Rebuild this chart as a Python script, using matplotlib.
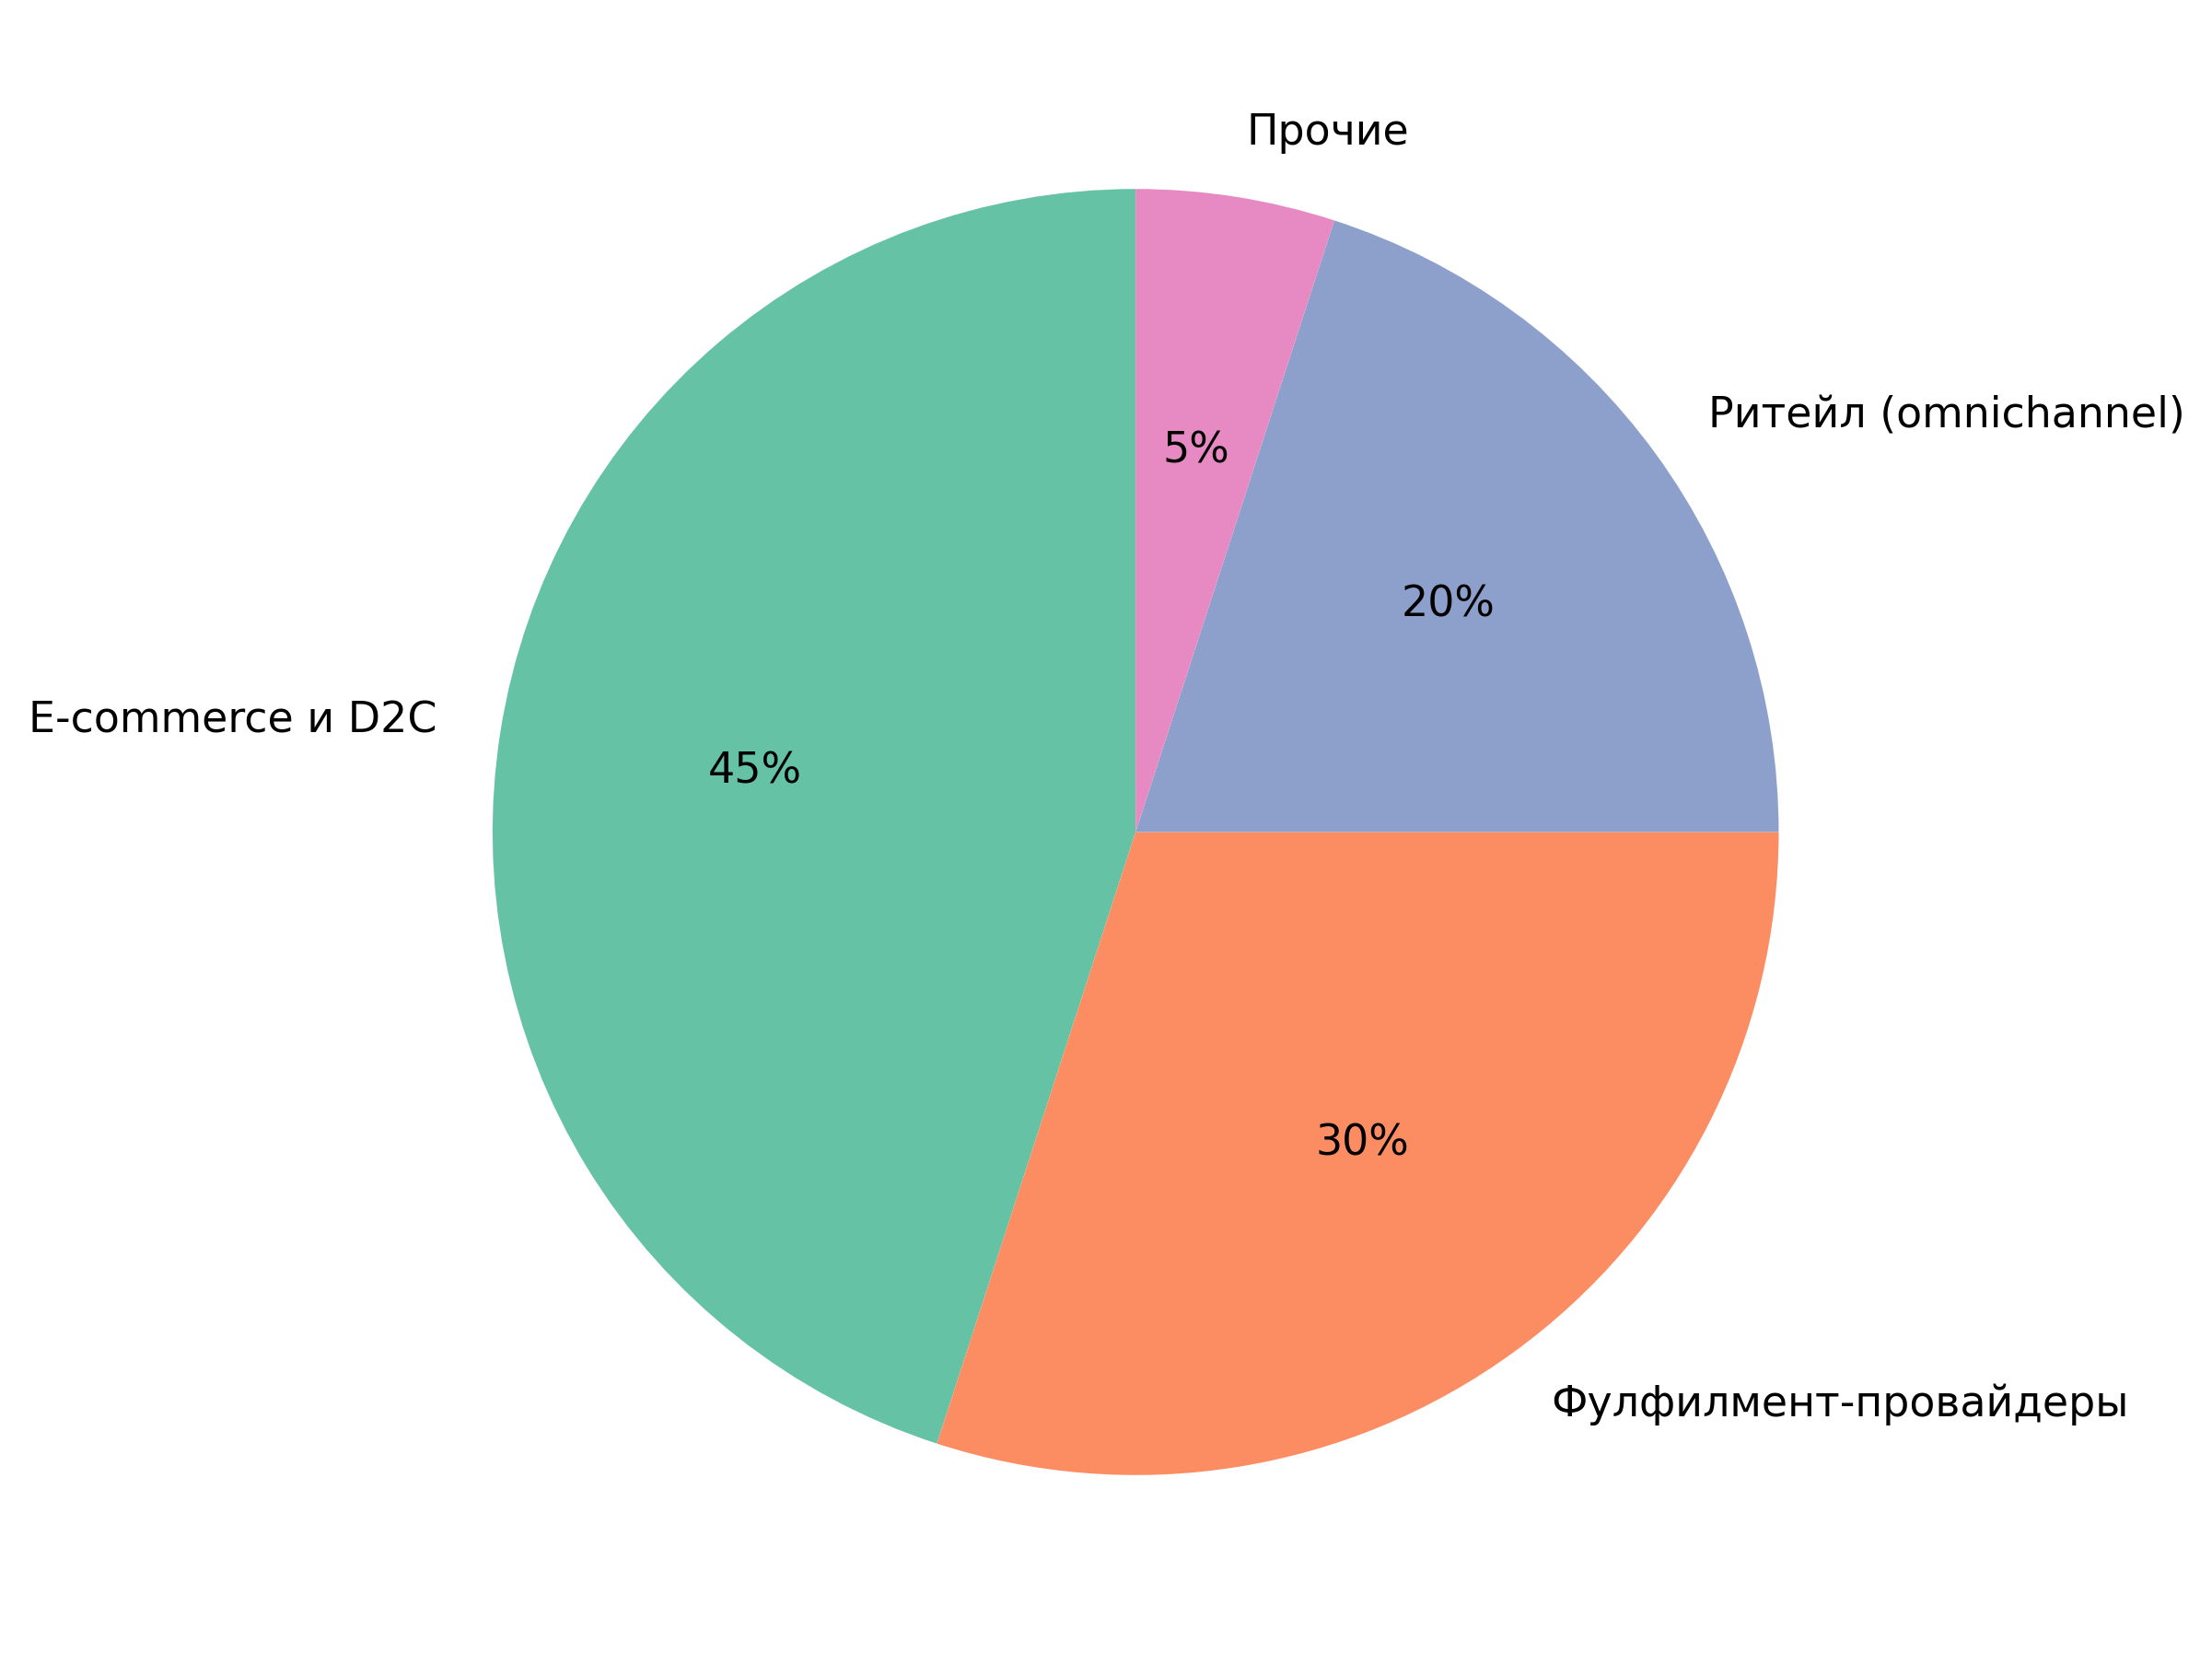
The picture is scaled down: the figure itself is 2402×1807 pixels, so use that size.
import matplotlib
matplotlib.use("Agg")
import matplotlib.pyplot as plt

labels = ["E-commerce и D2C", "Фулфилмент-провайдеры", "Ритейл (omnichannel)", "Прочие"]
values = [45, 30, 20, 5]
colors = ["#66c2a5", "#fc8d62", "#8da0cb", "#e78ac3"]

dpi = 200
fig = plt.figure(figsize=(2402 / dpi, 1807 / dpi), dpi=dpi)
W, H = 1568, 1180  # reference layout coordinates (scaled)
cx, cy, r = 805, 590, 456
ax = fig.add_axes([(cx - r) / W, (H - cy - r) / H, 2 * r / W, 2 * r / H])
ax.pie(values, labels=labels, colors=colors, autopct="%1.0f%%", startangle=90,
       textprops={"fontsize": 16.5})
ax.set_xlim(-1, 1)
ax.set_ylim(-1, 1)
ax.set_aspect("equal")
fig.savefig("out.png", dpi=dpi)
